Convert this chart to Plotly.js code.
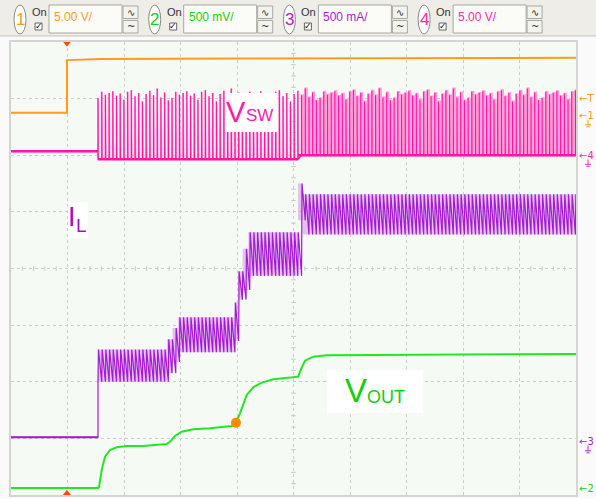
<!DOCTYPE html>
<html>
<head>
<meta charset="utf-8">
<script src="https://cdn.plot.ly/plotly-3.0.1.min.js"></script>
<style>
html,body{margin:0;padding:0;background:#fafafa;}
#chart{width:596px;height:499px;}
</style>
</head>
<body>
<div id="chart"></div>
<script>
// ---------------- DATA (screen divisions: x 0..10, y 0..8) ----------------
// Header channel settings
const chNames  = ['1', '2', '3', '4'];
const chScales = ['5.00 V/', '500 mV/', '500 mA/', '5.00 V/'];
const chColors = ['#ff9a1a', '#14d014', '#b020d0', '#ff28aa'];

// Trigger / timing
const triggerX = 0.99;          // trigger position (orange markers)
const switchStartX = 1.54;      // switching begins
const switchPeriod = 0.0655;    // ripple / pulse period (~3.7 px)

// Channel 1 (orange)
const ch1X = [0, 0.99, 0.99, 1.6, 4.0, 7.0, 10];
const ch1Y = [6.75, 6.75, 7.68, 7.70, 7.71, 7.71, 7.72];

// Channel 4 (VSW, magenta)
const vswBase = 6.07;
const vswSegX0  = [1.54, 5.08];
const vswSegX1  = [5.08, 10.0];
const vswLow    = [5.93, 6.00];
const vswColW   = [0.010, 0.030];   // width of the light persistence column per region
const vswPeaks  = [7.01, 7.12, 7.07, 7.10, 7.13, 7.05, 7.09, 6.98, 7.12, 7.15, 7.04, 7.10, 6.95, 7.08, 7.14, 7.06, 7.18, 7.02, 7.11, 6.97];

// Channel 3 (IL, purple) ripple envelope segments
const ilBase   = 1.02;
const ilSegX0  = [1.54, 2.76, 2.86, 2.96, 3.96, 4.02, 4.10, 4.20, 5.08, 5.16];
const ilSegX1  = [2.76, 2.86, 2.96, 3.96, 4.02, 4.10, 4.20, 5.08, 5.16, 10.0];
const ilSegTop = [2.57, 2.75, 2.95, 3.14, 3.40, 3.95, 4.35, 4.64, 5.50, 5.31];
const ilSegBot = [2.00, 2.15, 2.35, 2.52, 2.72, 3.45, 3.62, 3.87, 4.85, 4.60];

// Channel 2 (VOUT, green)
const voX = [0, 1.54, 1.558, 1.605, 1.664, 1.752, 1.871, 2.048, 2.336, 2.756, 2.814, 2.903, 3.021, 3.227, 3.522, 3.906, 3.982, 4.053, 4.172, 4.288, 4.437, 4.642, 5.085, 5.127, 5.204, 5.35, 5.588, 6.177, 8.0, 10.0];
const voY = [0.124, 0.124, 0.141, 0.442, 0.677, 0.795, 0.843, 0.866, 0.866, 0.901, 0.942, 1.042, 1.118, 1.161, 1.178, 1.219, 1.277, 1.443, 1.767, 1.903, 1.984, 2.044, 2.090, 2.208, 2.373, 2.443, 2.468, 2.473, 2.48, 2.49];

// Cursor dot on VOUT
const cursorX = [3.982];
const cursorY = [1.277];

// Right-side channel reference markers
const refLabels = ['\u2190T', '\u21901', '\u21904', '\u21903', '\u21902'];
const refLevels = [7.01, 6.70, 6.00, 0.94, 0.12];
const refColors = ['#ff9a1a', '#ff9a1a', '#ff28aa', '#b020d0', '#14d014'];
const refGround = [false, true, true, true, false];

// ---------------- helpers ----------------
const px2x = px => (px - 11) / 565;
const py2y = py => (495 - py) / 453;
const lvl2py = v => 495 - v * 56.6;
function segIndex(x0s, x1s, t) {
  for (let i = 0; i < x0s.length; i++) if (t >= x0s[i] && t < x1s[i]) return i;
  return -1;
}

// ---------------- traces ----------------
const traces = [];

// VSW: light persistence columns and dark pulses
function buildPulses(widths) {
  const x = [0, switchStartX], y = [vswBase, vswBase];
  let n = 0;
  for (let t = switchStartX; t < 10; t += switchPeriod, n++) {
    const i = segIndex(vswSegX0, vswSegX1, t);
    if (i < 0) break;
    const w = widths[i];
    const hi = vswPeaks[n % vswPeaks.length];
    x.push(t, t, t + w, t + w);
    y.push(vswLow[i], hi, hi, vswLow[i]);
  }
  x.push(10); y.push(vswLow[vswLow.length - 1]);
  return {x, y};
}
const pl = buildPulses(vswColW);
traces.push({x: pl.x, y: pl.y, mode: 'lines', line: {color: '#ffa0da', width: 1.8}, hoverinfo: 'skip'});
const pd = buildPulses([0.004, 0.004]);
traces.push({x: pd.x, y: pd.y, mode: 'lines', line: {color: '#ff14a6', width: 1.1}, hoverinfo: 'skip'});
{
  const bx = [0, switchStartX, null], by = [vswBase, vswBase, null];
  for (let i = 0; i < vswSegX0.length; i++) { bx.push(vswSegX0[i], vswSegX1[i], null); by.push(vswLow[i], vswLow[i], null); }
  traces.push({x: bx, y: by, mode: 'lines', line: {color: '#ff14a6', width: 2.4}, hoverinfo: 'skip'});
}

// Orange channel 1
traces.push({x: ch1X, y: ch1Y, mode: 'lines', line: {color: '#ff9a1a', width: 2}, hoverinfo: 'skip'});

// IL envelope band
{
  const ex = [], eb = [], et = [];
  for (let i = 0; i < ilSegX0.length; i++) {
    ex.push(ilSegX0[i], ilSegX1[i]);
    eb.push(ilSegBot[i], ilSegBot[i]);
    et.push(ilSegTop[i], ilSegTop[i]);
  }
  traces.push({x: ex, y: eb, mode: 'lines', line: {width: 0, color: 'rgba(0,0,0,0)'}, hoverinfo: 'skip'});
  traces.push({x: ex, y: et, mode: 'lines', fill: 'tonexty', fillcolor: 'rgba(210,140,232,0.5)', line: {width: 0, color: 'rgba(0,0,0,0)'}, hoverinfo: 'skip'});
}
// IL ripple
{
  const x = [0, switchStartX, switchStartX], y = [ilBase, ilBase, ilSegBot[0]];
  for (let t = switchStartX; t < 10; t += switchPeriod) {
    const i = segIndex(ilSegX0, ilSegX1, t);
    if (i < 0) break;
    x.push(t + 0.12 * switchPeriod, t + switchPeriod);
    y.push(ilSegTop[i], ilSegBot[i]);
  }
  traces.push({x, y, mode: 'lines', line: {color: '#a51ad2', width: 1.2}, hoverinfo: 'skip'});
  traces.push({x: [0, switchStartX], y: [ilBase, ilBase], mode: 'lines', line: {color: '#a51ad2', width: 2.2}, hoverinfo: 'skip'});
}

// VOUT
traces.push({x: voX, y: voY, mode: 'lines', line: {color: '#22e822', width: 2}, hoverinfo: 'skip'});
traces.push({x: cursorX, y: cursorY, mode: 'markers', marker: {color: '#ff8a00', size: 10}, hoverinfo: 'skip'});

// Trigger markers
traces.push({x: [triggerX, triggerX], y: [7.985, 0.02], mode: 'markers', cliponaxis: false,
  marker: {symbol: ['triangle-down', 'triangle-up'], color: '#ff4a10', size: 8}, hoverinfo: 'skip'});

// ---------------- shapes & annotations ----------------
const shapes = [];
const ann = [];
const P = (x, y) => ({xref: 'paper', yref: 'paper', x: px2x(x), y: py2y(y), showarrow: false});

// header background
shapes.push({type: 'rect', xref: 'paper', yref: 'paper', x0: px2x(0), x1: px2x(596), y0: py2y(36), y1: py2y(0),
  fillcolor: '#eeede7', line: {width: 0}, layer: 'above'});
shapes.push({type: 'line', xref: 'paper', yref: 'paper', x0: px2x(0), x1: px2x(596), y0: py2y(36), y1: py2y(36),
  line: {color: '#c4c4bc', width: 1}, layer: 'above'});

for (let i = 0; i < 4; i++) {
  const dx = i * 134.7;
  shapes.push({type: 'circle', xref: 'paper', yref: 'paper', x0: px2x(14 + dx), x1: px2x(26 + dx), y0: py2y(34), y1: py2y(5),
    fillcolor: '#fdfdfb', line: {color: '#8c8c88', width: 1}, layer: 'above'});
  ann.push(Object.assign(P(20 + dx, 20), {text: chNames[i], xanchor: 'center', yanchor: 'middle',
    font: {family: 'Liberation Sans, Arial', size: 17, color: chColors[i]}}));
  ann.push(Object.assign(P(30 + dx, 12), {text: 'On', xanchor: 'left', yanchor: 'middle',
    font: {family: 'Liberation Sans, Arial', size: 11, color: '#333'}}));
  shapes.push({type: 'rect', xref: 'paper', yref: 'paper', x0: px2x(35 + dx), x1: px2x(42 + dx), y0: py2y(30), y1: py2y(23),
    fillcolor: '#ffffff', line: {color: '#666', width: 1}, layer: 'above'});
  ann.push(Object.assign(P(38.5 + dx, 26.5), {text: '\u2713', xanchor: 'center', yanchor: 'middle',
    font: {family: 'DejaVu Sans', size: 9, color: '#111'}}));
  shapes.push({type: 'rect', xref: 'paper', yref: 'paper', x0: px2x(49 + dx), x1: px2x(122 + dx), y0: py2y(33), y1: py2y(5),
    fillcolor: '#fbfbf7', line: {color: '#a8a8a0', width: 1}, layer: 'above'});
  ann.push(Object.assign(P(52 + dx, 17), {text: chScales[i], xanchor: 'left', yanchor: 'middle',
    font: {family: 'Liberation Sans, Arial', size: 12, color: chColors[i]}}));
  shapes.push({type: 'rect', xref: 'paper', yref: 'paper', x0: px2x(123 + dx), x1: px2x(138 + dx), y0: py2y(18.5), y1: py2y(6),
    fillcolor: '#f4f4ee', line: {color: '#a8a8a0', width: 1}, layer: 'above'});
  shapes.push({type: 'rect', xref: 'paper', yref: 'paper', x0: px2x(123 + dx), x1: px2x(138 + dx), y0: py2y(33), y1: py2y(20.5),
    fillcolor: '#f4f4ee', line: {color: '#a8a8a0', width: 1}, layer: 'above'});
  ann.push(Object.assign(P(130.5 + dx, 12), {text: '\u223F', xanchor: 'center', yanchor: 'middle',
    font: {family: 'DejaVu Sans', size: 10, color: '#333'}}));
  ann.push(Object.assign(P(130.5 + dx, 26.5), {text: '~', xanchor: 'center', yanchor: 'middle',
    font: {family: 'DejaVu Sans', size: 10, color: '#333'}}));
}

// centre-line minor ticks
for (let k = 1; k < 50; k++) {
  const xv = k * 0.2;
  if (Math.abs(xv - Math.round(xv)) < 1e-6) continue;
  shapes.push({type: 'line', xref: 'x', yref: 'y', x0: xv, x1: xv, y0: 3.96, y1: 4.04, line: {color: '#c8c8c8', width: 1}, layer: 'below'});
}
for (let k = 1; k < 40; k++) {
  const yv = k * 0.2;
  if (Math.abs(yv - Math.round(yv)) < 1e-6) continue;
  shapes.push({type: 'line', xref: 'x', yref: 'y', x0: 4.96, x1: 5.04, y0: yv, y1: yv, line: {color: '#c8c8c8', width: 1}, layer: 'below'});
}

// label boxes
function whiteBox(x0, y0, x1, y1) {
  shapes.push({type: 'rect', xref: 'paper', yref: 'paper', x0: px2x(x0), x1: px2x(x1), y0: py2y(y1), y1: py2y(y0),
    fillcolor: '#ffffff', line: {width: 0}, layer: 'above'});
}
whiteBox(225, 93, 277, 132);
whiteBox(68, 202, 88, 238);
whiteBox(327, 370, 423, 413);

const lab = (x, y, t, s, c) => ann.push(Object.assign(P(x, y), {text: t, xanchor: 'left', yanchor: 'middle',
  font: {family: 'Liberation Sans, Arial', size: s, color: c}}));
lab(224, 112, 'V', 29, '#ff1aaa');
lab(244, 116, 'SW', 17, '#ff1aaa');
lab(66, 216.5, 'I', 27, '#9a10c8');
lab(74, 225.5, 'L', 19, '#9a10c8');
lab(343, 390.5, 'V', 33, '#10d010');
lab(365, 396.5, 'OUT', 18, '#10d010');

// right-side reference markers
for (let i = 0; i < refLabels.length; i++) {
  ann.push({xref: 'paper', yref: 'y', x: px2x(577), y: refLevels[i], text: refLabels[i], showarrow: false,
    xanchor: 'left', yanchor: 'middle', font: {family: 'DejaVu Sans', size: 10, color: refColors[i]}});
  if (refGround[i]) {
    const py = lvl2py(refLevels[i]);
    shapes.push({type: 'line', xref: 'paper', yref: 'paper', x0: px2x(588), x1: px2x(588), y0: py2y(py + 4), y1: py2y(py + 9),
      line: {color: refColors[i], width: 1}, layer: 'above'});
    shapes.push({type: 'line', xref: 'paper', yref: 'paper', x0: px2x(585), x1: px2x(591), y0: py2y(py + 9), y1: py2y(py + 9),
      line: {color: refColors[i], width: 1}, layer: 'above'});
    shapes.push({type: 'line', xref: 'paper', yref: 'paper', x0: px2x(586.5), x1: px2x(589.5), y0: py2y(py + 11), y1: py2y(py + 11),
      line: {color: refColors[i], width: 1}, layer: 'above'});
  }
}

const layout = {
  width: 596, height: 499,
  margin: {l: 11, r: 20, t: 42, b: 4, pad: 0},
  paper_bgcolor: '#fafafa',
  plot_bgcolor: '#f5faf5',
  showlegend: false,
  xaxis: {range: [0, 10], dtick: 1, tick0: 0, showticklabels: false, ticks: '', zeroline: false,
    showgrid: true, gridcolor: '#cdcdcd', griddash: 'dot', gridwidth: 1,
    showline: true, mirror: true, linecolor: '#d4d4d0', linewidth: 2, fixedrange: true},
  yaxis: {range: [0, 8], dtick: 1, tick0: 0, showticklabels: false, ticks: '', zeroline: false,
    showgrid: true, gridcolor: '#cdcdcd', griddash: 'dot', gridwidth: 1,
    showline: true, mirror: true, linecolor: '#d4d4d0', linewidth: 2, fixedrange: true},
  shapes: shapes,
  annotations: ann
};

Plotly.newPlot('chart', traces, layout, {staticPlot: true, displayModeBar: false});
</script>
</body>
</html>
